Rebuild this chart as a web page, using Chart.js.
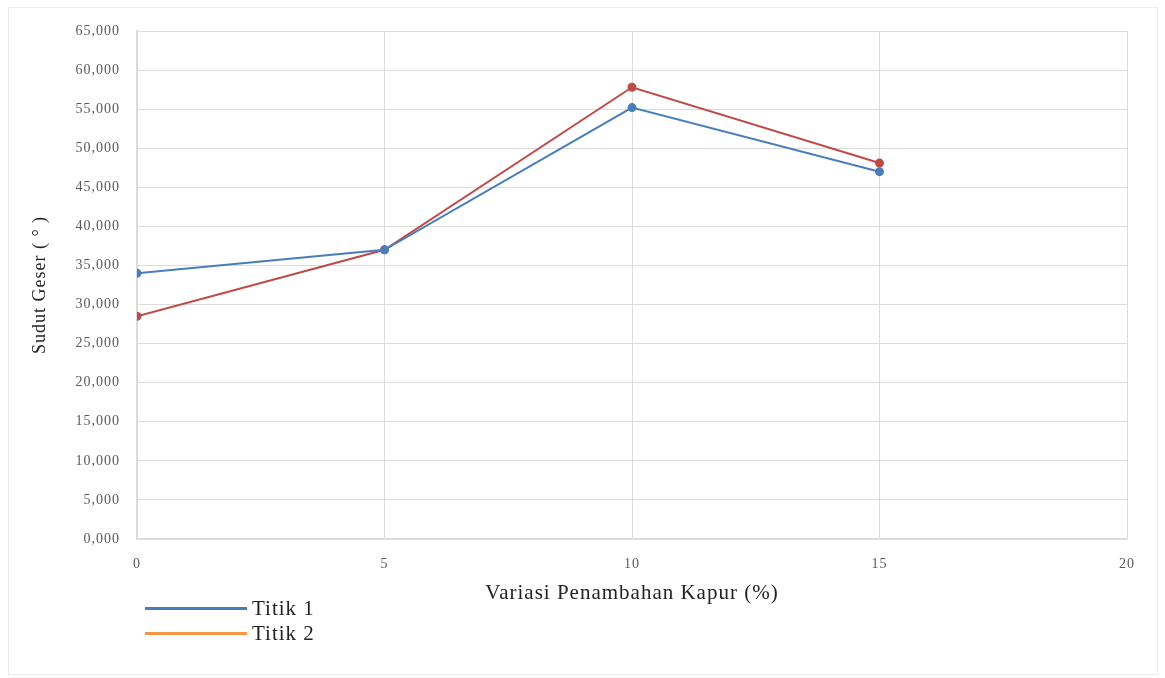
<!DOCTYPE html>
<html lang="id">
<head>
    <meta charset="UTF-8">
    <title>Sudut Geser</title>
    <script src="https://cdn.jsdelivr.net/npm/chart.js"></script>
    <style>
        body {
            margin: 0;
            background: #ffffff;
            font-family: 'Liberation Serif', 'Times New Roman', serif;
        }
        #wrap {
            position: relative;
            width: 1165px;
            height: 678px;
        }
        #frame {
            position: absolute;
            left: 8px;
            top: 7px;
            width: 1150px;
            height: 668px;
            border: 1px solid #ececec;
            box-sizing: border-box;
        }
        canvas {
            position: absolute;
            left: 0;
            top: 0;
        }
        #legend {
            position: absolute;
            left: 145px;
            top: 596px;
            font-size: 21px;
            letter-spacing: 1px;
            color: #222;
            line-height: 25px;
        }
        .item {
            display: flex;
            align-items: center;
        }
        .swatch {
            display: inline-block;
            width: 102px;
            height: 3px;
            margin-right: 5px;
        }
    </style>
</head>
<body>
    <div id="wrap">
        <div id="frame"></div>
        <canvas id="chart" width="1165" height="678"></canvas>
        <div id="legend"></div>
    </div>

    <script>
        const kapur = [0, 5, 10, 15];
        const titik1 = [34.0, 37.0, 55.2, 47.0];
        const titik2 = [28.5, 37.0, 57.8, 48.1];
        const seriesNames = ['Titik 1', 'Titik 2'];
        const legendColors = ['#4a7ebb', '#f79646'];

        const toPoints = vals => vals.map((v, i) => ({ x: kapur[i], y: v }));

        const grid = '#dcdcdc';
        const tickFont = { family: "'Liberation Serif', serif", size: 14 };

        // the original picture is a bit stretched sideways, so space the letters out
        const spacing = {
            id: 'spacing',
            beforeDraw(chart) { chart.ctx.letterSpacing = '1px'; }
        };

        new Chart(document.getElementById('chart'), {
            type: 'line',
            data: {
                datasets: [{
                    label: seriesNames[0],
                    data: toPoints(titik1),
                    borderColor: '#4a7ebb',
                    backgroundColor: '#4a7ebb',
                    borderWidth: 2,
                    pointRadius: 3.5,
                    tension: 0
                }, {
                    label: seriesNames[1],
                    data: toPoints(titik2),
                    borderColor: '#be4b48',
                    backgroundColor: '#be4b48',
                    borderWidth: 2,
                    pointRadius: 3.5,
                    tension: 0
                }]
            },
            plugins: [spacing],
            options: {
                responsive: false,
                animation: false,
                layout: { padding: { left: 25, right: 38, top: 31, bottom: 68 } },
                plugins: {
                    legend: { display: false },
                    tooltip: { enabled: false }
                },
                scales: {
                    x: {
                        type: 'linear',
                        min: 0,
                        max: 20,
                        ticks: { stepSize: 5, color: '#595959', font: tickFont, padding: 17 },
                        grid: { color: grid, drawTicks: false },
                        border: { color: grid, width: 2 },
                        title: {
                            display: true,
                            text: 'Variasi Penambahan Kapur (%)',
                            color: '#222',
                            font: { family: "'Liberation Serif', serif", size: 21 }
                        },
                        afterFit: s => { s.height = 71; }
                    },
                    y: {
                        min: 0,
                        max: 65,
                        ticks: {
                            stepSize: 5,
                            color: '#595959',
                            font: tickFont,
                            padding: 17,
                            callback: v => v.toFixed(3).replace('.', ',')
                        },
                        grid: { color: grid, drawTicks: false },
                        border: { color: grid, width: 2 },
                        title: {
                            display: true,
                            text: 'Sudut Geser ( ° )',
                            color: '#222',
                            font: { family: "'Liberation Serif', serif", size: 18 }
                        },
                        afterFit: s => { s.width = 112; }
                    }
                }
            }
        });

        // legend stacked like the original, drawn as html
        const legend = document.getElementById('legend');
        seriesNames.forEach((name, i) => {
            const row = document.createElement('div');
            row.className = 'item';
            row.innerHTML = '<span class="swatch" style="background:' + legendColors[i] + '"></span>' + name;
            legend.appendChild(row);
        });
    </script>
</body>
</html>
